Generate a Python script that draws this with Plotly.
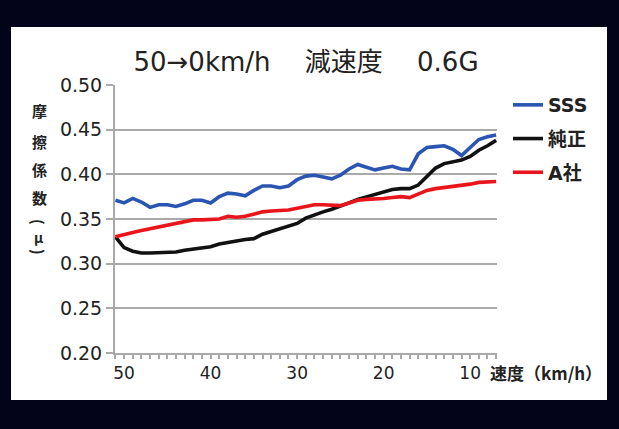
"""
Brake pad friction coefficient vs speed (50->0 km/h, 0.6G deceleration)
"""

import plotly.graph_objects as go

# ============================================================================
# DATA
# ============================================================================
speed = list(range(51, 6, -1))  # km/h, 51 .. 7

sss = [0.371, 0.368, 0.373, 0.369, 0.363, 0.366, 0.366, 0.364, 0.367, 0.371,
       0.371, 0.368, 0.375, 0.379, 0.378, 0.376, 0.382, 0.387, 0.387, 0.385,
       0.387, 0.394, 0.398, 0.399, 0.397, 0.395, 0.399, 0.406, 0.411, 0.408,
       0.405, 0.407, 0.409, 0.406, 0.405, 0.423, 0.430, 0.431, 0.432, 0.428,
       0.421, 0.430, 0.439, 0.442, 0.444]

junsei = [0.330, 0.318, 0.314, 0.312, 0.312, 0.312, 0.312, 0.313, 0.315, 0.316,
          0.318, 0.319, 0.322, 0.324, 0.325, 0.327, 0.328, 0.333, 0.336, 0.339,
          0.342, 0.345, 0.351, 0.355, 0.358, 0.361, 0.364, 0.368, 0.372, 0.375,
          0.377, 0.380, 0.383, 0.384, 0.384, 0.388, 0.397, 0.407, 0.412, 0.414,
          0.416, 0.420, 0.427, 0.432, 0.438]

a_sha = [0.330, 0.333, 0.335, 0.337, 0.339, 0.342, 0.344, 0.345, 0.347, 0.349,
         0.349, 0.349, 0.350, 0.353, 0.352, 0.353, 0.356, 0.358, 0.359, 0.359,
         0.360, 0.362, 0.364, 0.366, 0.366, 0.366, 0.365, 0.368, 0.371, 0.372,
         0.372, 0.373, 0.374, 0.375, 0.374, 0.378, 0.382, 0.384, 0.385, 0.387,
         0.388, 0.389, 0.391, 0.392, 0.392]

series = [
    ('SSS', sss, '#2a55b3'),
    ('純正', junsei, '#111111'),
    ('A社', a_sha, '#e8161c'),
]

x_ticks = [50, 40, 30, 20, 10]
y_ticks = [0.20, 0.25, 0.30, 0.35, 0.40, 0.45, 0.50]

# vertical y-axis title: (char, pixel row from top, font size, rotation)
y_title = [
    ('摩', 111, 15, 0),
    ('擦', 141, 15, 0),
    ('係', 169, 15, 0),
    ('数', 197, 15, 0),
    ('(', 222, 15, 90),
    ('μ', 237, 14, 0),
    (')', 252, 15, 90),
]

# ============================================================================
# FIGURE
# ============================================================================
FONT = 'DejaVu Sans, Noto Sans CJK JP, sans-serif'
CJK = 'Noto Sans CJK JP, DejaVu Sans, sans-serif'
GRID = '#a9a9a9'
TXT = '#222222'

L, R, T, B = 115, 122, 85, 76
W, H = 619, 429
plot_w = W - L - R
plot_h = H - T - B

fig = go.Figure()

for i, (name, vals, color) in enumerate(series):
    fig.add_trace(go.Scatter(
        x=speed,
        y=vals,
        mode='lines',
        name=name,
        legendgroup=str(i),
        line=dict(color=color, width=3.6),
    ))

fig.update_layout(
    width=W,
    height=H,
    margin=dict(l=L, r=R, t=T, b=B),
    paper_bgcolor='#03041a',
    plot_bgcolor='white',
    font=dict(family=FONT, color=TXT),
    title=dict(
        text='50→0km/h　 減速度　 0.6G',
        x=0.5, xref='paper', xanchor='center',
        y=1 - 62 / H, yanchor='middle',
        font=dict(size=26, color=TXT),
    ),
    legend=dict(
        x=1.0 + 11 / plot_w, y=(H - B - 86) / plot_h, xanchor='left', yanchor='top',
        xref='paper', yref='paper',
        font=dict(size=19, color=TXT, weight='bold'),
        bgcolor='rgba(0,0,0,0)',
        tracegroupgap=6,
        itemwidth=30,
    ),
    showlegend=True,
)

fig.update_xaxes(
    range=[51.05, 6.9],
    tickvals=x_ticks,
    ticks='outside', ticklen=4, tickwidth=1.5, tickcolor=GRID,
    minor=dict(dtick=1, tick0=0, ticks='outside', ticklen=4, tickcolor=GRID),
    showgrid=False,
    showline=True, linecolor=GRID, linewidth=2,
    tickfont=dict(size=17, color=TXT),
    zeroline=False,
)

fig.update_yaxes(
    range=[0.20, 0.50],
    tickvals=y_ticks,
    tickformat='.2f',
    ticks='outside', ticklen=7, tickwidth=2, tickcolor=GRID,
    showgrid=True, gridcolor=GRID, gridwidth=2,
    showline=True, linecolor=GRID, linewidth=2,
    tickfont=dict(size=19, color=TXT),
    zeroline=False,
)

# white panel behind the chart
fig.add_shape(
    type='rect', xref='paper', yref='paper',
    x0=(11 - L) / plot_w, x1=(607 - L) / plot_w,
    y0=(H - B - 400) / plot_h, y1=(H - B - 27) / plot_h,
    fillcolor='white', line=dict(width=0), layer='below',
)

# y-axis title (vertical, one character per row)
for ch, row, size, angle in y_title:
    fig.add_annotation(
        text=ch,
        xref='paper', yref='paper',
        x=(39 - L) / plot_w, y=(H - B - row) / plot_h,
        xanchor='center', yanchor='middle',
        showarrow=False, textangle=angle,
        font=dict(size=size, family=CJK, color=TXT, weight='bold'),
    )

# x-axis title
fig.add_annotation(
    text='速度（km/h）',
    xref='paper', yref='paper',
    x=(488 - L) / plot_w, y=-19 / plot_h,
    xanchor='left', yanchor='middle',
    showarrow=False,
    font=dict(size=17, family=CJK, color=TXT, weight='bold'),
)

fig.write_html(
    'out.html',
    config={'displayModeBar': False},
    post_script="document.body.style.margin='0';document.body.style.background='#03041a';",
)
print('Saved: out.html')
